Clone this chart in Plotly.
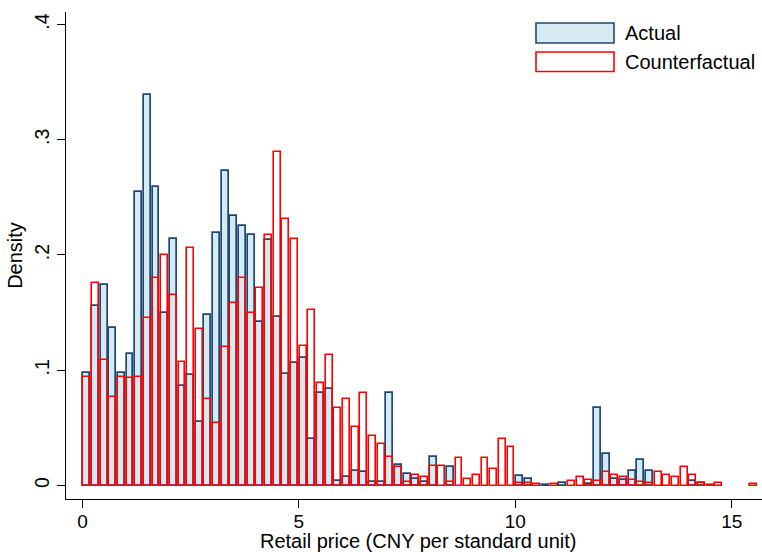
import plotly.graph_objects as go

# Histogram bins: width 0.2, left edges 0.0 ... 15.4
bin_width = 0.2
bin_left = [round(i * bin_width, 1) for i in range(78)]

# Density per bin, actual retail prices
actual = [
    0.098, 0.156, 0.174, 0.137, 0.098, 0.114, 0.255, 0.339, 0.259, 0.150,
    0.214, 0.086, 0.096, 0.055, 0.148, 0.219, 0.273, 0.234, 0.225, 0.217,
    0.142, 0.213, 0.146, 0.097, 0.106, 0.111, 0.040, 0.080, 0.084, 0.004,
    0.007, 0.013, 0.0115, 0.003, 0.003, 0.080, 0.018, 0.010, 0.006, 0.003,
    0.025, None, 0.016, None, None, None, None, None, None, None,
    0.008, 0.006, None, 0.0006, None, 0.002, None, None, 0.001, 0.067,
    0.027, 0.006, 0.005, 0.013, 0.022, 0.013, None, None, None, None,
    0.004, 0.002, None, None, None, None, None, None,
]

# Density per bin, counterfactual retail prices
counterfactual = [
    0.094, 0.176, 0.109, 0.077, 0.094, 0.093, 0.094, 0.145, 0.180, 0.200,
    0.165, 0.107, 0.206, 0.136, 0.075, 0.054, 0.120, 0.158, 0.180, 0.150,
    0.171, 0.2175, 0.289, 0.231, 0.214, 0.121, 0.152, 0.089, 0.113, 0.067,
    0.075, 0.051, 0.080, 0.043, 0.036, 0.025, 0.016, 0.003, 0.009, 0.007,
    0.017, 0.017, 0.003, 0.024, 0.006, 0.009, 0.024, 0.0145, 0.040, 0.033,
    0.002, 0.002, 0.0015, None, 0.001, None, 0.004, 0.007, 0.005, 0.004,
    0.0115, 0.009, 0.007, 0.005, 0.003, 0.002, 0.0115, 0.0095, 0.007, 0.016,
    0.0095, 0.002, 0.0007, 0.002, None, None, None, 0.001,
]

x_ticks = [0, 5, 10, 15]
y_ticks = [0, 0.1, 0.2, 0.3, 0.4]
y_ticktext = ["0", ".1", ".2", ".3", ".4"]

series_names = ["Actual", "Counterfactual"]
x_title = "Retail price (CNY per standard unit)"

FONT = "Liberation Sans, Arial, Helvetica, sans-serif"
NAVY = "#1d4874"
LIGHT = "#d6eaf1"
RED = "#ff0000"

centers = [b + bin_width / 2 for b in bin_left]

fig = go.Figure()
fig.add_trace(go.Bar(
    x=centers, y=actual, width=0.16, name=series_names[0],
    marker=dict(color=LIGHT, line=dict(color=NAVY, width=1.7)),
    showlegend=False,
))
fig.add_trace(go.Bar(
    x=centers, y=counterfactual, width=0.16, name=series_names[1],
    marker=dict(color="rgba(0,0,0,0)", line=dict(color=RED, width=1.6)),
    showlegend=False,
))

# Plot area geometry (pixels) for a 762x552 page
L, R, T, B = 66, 0, 12, 53
W, H = 762, 552
pw, ph = W - L - R, H - T - B

def px_x(p):
    return (p - L) / pw

def px_y(p):
    return (H - B - p) / ph

# Hand-drawn legend: wide swatches with labels
legend_rows = [
    (series_names[0], LIGHT, NAVY, 23, 43),
    (series_names[1], "white", RED, 52, 71.5),
]
shapes = []
annotations = []
for name, fill, line, top, bottom in legend_rows:
    shapes.append(dict(
        type="rect", xref="paper", yref="paper",
        x0=px_x(536), x1=px_x(614), y0=px_y(bottom), y1=px_y(top),
        fillcolor=fill, line=dict(color=line, width=1.6),
    ))
    annotations.append(dict(
        text=name, xref="paper", yref="paper", x=px_x(623),
        y=px_y((top + bottom) / 2), xanchor="left", yanchor="middle",
        showarrow=False, font=dict(size=20, color="black", family=FONT),
    ))

# x-axis title placed just below the tick labels
annotations.append(dict(
    text=x_title, xref="paper", yref="paper", x=px_x(418), y=px_y(541),
    xanchor="center", yanchor="middle", showarrow=False, borderpad=0,
    font=dict(size=20, color="black", family=FONT),
))

fig.update_layout(
    width=W, height=H,
    margin=dict(l=L, r=R, t=T, b=B, autoexpand=False),
    paper_bgcolor="white", plot_bgcolor="white",
    barmode="overlay", bargap=0,
    font=dict(family=FONT, size=20, color="black"),
    shapes=shapes, annotations=annotations,
    xaxis=dict(
        range=[-0.379, 15.699], tickvals=x_ticks,
        ticks="outside", ticklen=8, tickwidth=1, tickcolor="black",
        showline=True, linecolor="black", linewidth=1,
        showgrid=False, zeroline=False,
        tickfont=dict(size=19), ticklabelstandoff=-3,
    ),
    yaxis=dict(
        range=[-0.0117, 0.4108], tickvals=y_ticks, ticktext=y_ticktext,
        ticks="outside", ticklen=8, tickwidth=1, tickcolor="black",
        tickangle=-90,
        showline=True, linecolor="black", linewidth=1,
        showgrid=False, zeroline=False,
        tickfont=dict(size=19.5),
        title=dict(text="Density", font=dict(size=20), standoff=3),
    ),
)

fig.write_html("out.html")
